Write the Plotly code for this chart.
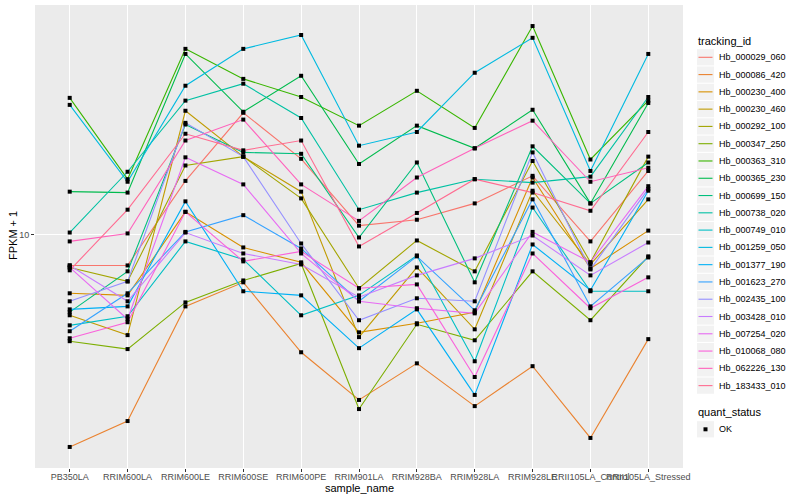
import math
import plotly.graph_objects as go

# ---------------- data (FPKM + 1) ----------------
samples = ["PB350LA", "RRIM600LA", "RRIM600LE", "RRIM600SE", "RRIM600PE",
           "RRIM901LA", "RRIM928BA", "RRIM928LA", "RRIM928LE",
           "RRII105LA_Control", "RRII105LA_Stressed"]

tracking_ids = ["Hb_000029_060", "Hb_000086_420", "Hb_000230_400", "Hb_000230_460",
                "Hb_000292_100", "Hb_000347_250", "Hb_000363_310", "Hb_000365_230",
                "Hb_000699_150", "Hb_000738_020", "Hb_000749_010", "Hb_001259_050",
                "Hb_001377_190", "Hb_001623_270", "Hb_002435_100", "Hb_003428_010",
                "Hb_007254_020", "Hb_010068_080", "Hb_062226_130", "Hb_183433_010"]

colors = ["#F8766D", "#EA8331", "#D89000", "#C09B00", "#A3A500", "#7CAE00", "#39B600",
          "#00BB4E", "#00BF7D", "#00C1A3", "#00BFC4", "#00BAE0", "#00B0F6", "#35A2FF",
          "#9590FF", "#C77CFF", "#E76BF3", "#FA62DB", "#FF62BC", "#FF6C91"]

Hb_000029_060 = [7.88, 7.88, 15.1, 25.5, 17.9, 10.7, 11.2, 12.7, 15.7, 9.48, 16.3]
Hb_000086_420 = [1.95, 2.38, 5.75, 6.92, 4.04, 2.80, 3.71, 2.67, 3.63, 2.09, 4.47]
Hb_000230_400 = [6.36, 6.26, 11.9, 9.05, 8.07, 4.71, 5.05, 5.50, 15.5, 7.70, 10.3]
Hb_000230_460 = [5.37, 4.61, 25.9, 18.2, 13.9, 4.54, 7.76, 4.82, 14.0, 7.94, 13.1]
Hb_000292_100 = [7.76, 6.97, 17.0, 18.2, 13.2, 6.61, 9.55, 7.53, 17.6, 8.07, 18.2]
Hb_000347_250 = [4.40, 4.14, 5.93, 7.02, 8.00, 2.61, 5.01, 4.43, 7.53, 5.17, 8.45]
Hb_000363_310 = [28.6, 15.3, 41.7, 33.1, 28.8, 23.1, 30.2, 22.7, 49.7, 17.8, 28.0]
Hb_000365_230 = [13.9, 13.8, 40.1, 25.7, 33.9, 17.2, 23.1, 19.4, 26.1, 12.7, 27.5]
Hb_000699_150 = [5.50, 7.53, 23.3, 18.8, 18.6, 9.77, 17.4, 6.92, 19.7, 12.7, 17.4]
Hb_000738_020 = [10.15, 16.2, 28.0, 31.9, 24.5, 12.1, 13.8, 15.3, 14.9, 15.6, 28.8]
Hb_000749_010 = [4.97, 5.33, 9.48, 8.25, 5.37, 6.26, 8.51, 3.77, 12.3, 6.46, 6.46]
Hb_001259_050 = [27.1, 15.0, 31.4, 41.7, 46.4, 19.8, 22.0, 34.7, 45.4, 16.3, 40.1]
Hb_001377_190 = [5.62, 5.75, 12.9, 6.46, 6.26, 4.17, 5.62, 2.91, 9.26, 6.51, 14.0]
Hb_001623_270 = [4.75, 6.36, 10.2, 11.6, 8.98, 5.98, 8.45, 5.58, 13.1, 5.75, 8.38]
Hb_002435_100 = [5.98, 6.97, 23.6, 18.2, 9.33, 5.17, 6.12, 5.98, 18.8, 7.64, 14.2]
Hb_003428_010 = [7.88, 5.98, 10.15, 8.64, 7.94, 6.17, 7.30, 8.32, 9.92, 7.30, 9.40]
Hb_007254_020 = [7.76, 5.21, 18.1, 14.7, 8.64, 5.98, 5.67, 5.45, 10.2, 8.07, 14.5]
Hb_010068_080 = [4.50, 5.09, 11.9, 8.13, 8.78, 6.61, 6.81, 3.34, 8.64, 5.67, 7.19]
Hb_062226_130 = [9.48, 10.08, 20.6, 24.2, 14.7, 11.1, 15.5, 19.4, 24.0, 15.0, 16.7]
Hb_183433_010 = [7.59, 12.1, 21.7, 19.1, 20.6, 9.12, 11.8, 15.3, 13.8, 12.0, 22.0]

series = [Hb_000029_060, Hb_000086_420, Hb_000230_400, Hb_000230_460, Hb_000292_100,
          Hb_000347_250, Hb_000363_310, Hb_000365_230, Hb_000699_150, Hb_000738_020,
          Hb_000749_010, Hb_001259_050, Hb_001377_190, Hb_001623_270, Hb_002435_100,
          Hb_003428_010, Hb_007254_020, Hb_010068_080, Hb_062226_130, Hb_183433_010]

quant_status = "OK"
y_ticks = [10]

# ---------------- figure ----------------
W, H = 800, 500
L, R, T, B = 35, 117, 5, 32
FONT = "Liberation Sans, Arial, Helvetica, sans-serif"

fig = go.Figure()

for name, col, vals in zip(tracking_ids, colors, series):
    fig.add_trace(go.Scatter(x=samples, y=vals, mode="lines", name=name,
                             line=dict(color=col, width=1.1), showlegend=False,
                             hoverinfo="skip"))

all_x, all_y = [], []
for vals in series:
    all_x += samples
    all_y += vals
fig.add_trace(go.Scatter(x=all_x, y=all_y, mode="markers", name=quant_status,
                         marker=dict(symbol="square", size=4, color="black"),
                         showlegend=False))

lo = math.log10(min(all_y))
hi = math.log10(max(all_y))
pad = (hi - lo) * 0.05

# ---------------- manual ggplot-like legend + axis titles ----------------
pw, ph = W - L - R, H - T - B


def px(xp):
    return (xp - L) / pw


def py(yp):
    return (H - B - yp) / ph


shapes, annos = [], []
annos.append(dict(x=px(359), y=py(488), xref="paper", yref="paper", text="sample_name",
                  showarrow=False, xanchor="center", yanchor="middle",
                  font=dict(size=11, color="black", family=FONT)))
annos.append(dict(x=px(13), y=py(236), xref="paper", yref="paper", text="FPKM + 1",
                  showarrow=False, xanchor="center", yanchor="middle", textangle=-90,
                  font=dict(size=11, color="black", family=FONT)))
annos.append(dict(x=px(696), y=py(41), xref="paper", yref="paper", text="tracking_id",
                  showarrow=False, xanchor="left", yanchor="middle",
                  font=dict(size=11, color="black", family=FONT)))
pitch = 17.28
for i, (name, col) in enumerate(zip(tracking_ids, colors)):
    yc = 57.3 + pitch * i
    shapes.append(dict(type="rect", xref="paper", yref="paper",
                       x0=px(697), x1=px(714), y0=py(yc - 8.1), y1=py(yc + 8.1),
                       fillcolor="#F2F2F2", line=dict(width=0), layer="below"))
    shapes.append(dict(type="line", xref="paper", yref="paper",
                       x0=px(698.5), x1=px(712.5), y0=py(yc), y1=py(yc),
                       line=dict(color=col, width=1.1)))
    annos.append(dict(x=px(717), y=py(yc), xref="paper", yref="paper", text=name,
                      showarrow=False, xanchor="left", yanchor="middle",
                      font=dict(size=9, color="black", family=FONT)))

annos.append(dict(x=px(696), y=py(412), xref="paper", yref="paper", text="quant_status",
                  showarrow=False, xanchor="left", yanchor="middle",
                  font=dict(size=11, color="black", family=FONT)))
yc = 429.3
shapes.append(dict(type="rect", xref="paper", yref="paper",
                   x0=px(697), x1=px(714), y0=py(yc - 8.1), y1=py(yc + 8.1),
                   fillcolor="#F2F2F2", line=dict(width=0), layer="below"))
shapes.append(dict(type="rect", xref="paper", yref="paper",
                   x0=px(703.5), x1=px(707.5), y0=py(yc - 2), y1=py(yc + 2),
                   fillcolor="black", line=dict(width=0)))
annos.append(dict(x=px(717), y=py(yc), xref="paper", yref="paper", text=quant_status,
                  showarrow=False, xanchor="left", yanchor="middle",
                  font=dict(size=9, color="black", family=FONT)))

fig.update_layout(
    template="none",
    width=W, height=H, autosize=False,
    margin=dict(l=L, r=R, t=T, b=B, pad=0),
    paper_bgcolor="white", plot_bgcolor="#EBEBEB",
    font=dict(family=FONT, size=11, color="black"),
    showlegend=False,
    shapes=shapes, annotations=annos,
    xaxis=dict(type="category", categoryorder="array", categoryarray=samples,
               range=[-0.6, len(samples) - 0.4], tickangle=0,
               showgrid=True, gridcolor="white", gridwidth=1.1,
               zeroline=False, showline=False,
               ticks="outside", ticklen=3, tickwidth=1, tickcolor="#333333",
               tickfont=dict(size=9, color="#4D4D4D", family=FONT),
               ticklabelstandoff=-3,
               automargin=False),
    yaxis=dict(type="log", range=[lo - pad, hi + pad],
               tickvals=y_ticks, ticktext=[str(v) for v in y_ticks],
               showgrid=True, gridcolor="white", gridwidth=1.1,
               zeroline=False, showline=False,
               ticks="outside", ticklen=3, tickwidth=1, tickcolor="#333333",
               tickfont=dict(size=9, color="#4D4D4D", family=FONT),
               automargin=False),
)

fig.write_html("out.html", config={"displayModeBar": False},
               post_script="document.body.style.margin='0';"
                           "document.body.style.overflow='hidden';")
